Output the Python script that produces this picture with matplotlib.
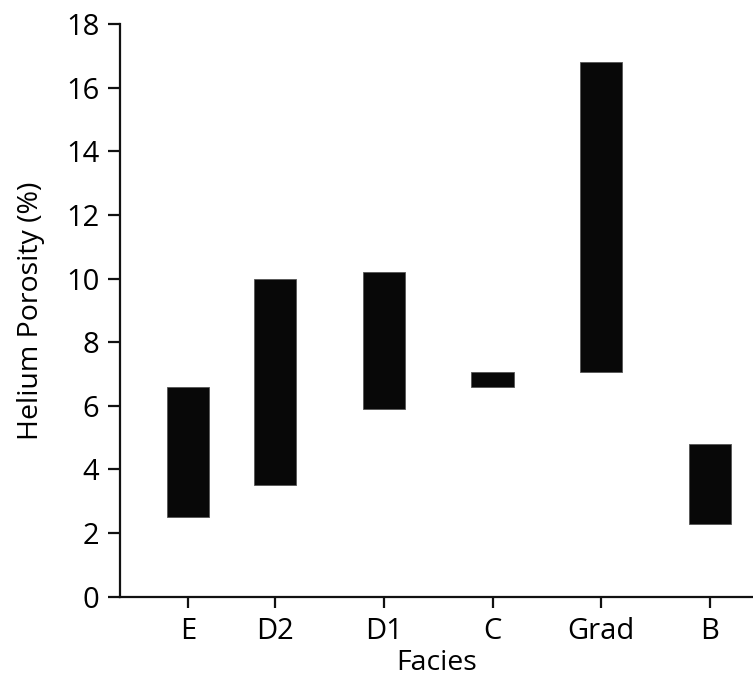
import matplotlib.pyplot as plt
import numpy as np

plt.rcParams['font.family'] = ['Open Sans', 'DejaVu Sans']

# porosity ranges per facies (min / max, %)
facies = ['E', 'D2', 'D1', 'C', 'Grad', 'B']
por_min = [2.5, 3.5, 5.9, 6.6, 7.05, 2.3]
por_max = [6.6, 10.0, 10.2, 7.05, 16.8, 4.8]

# category positions on the x axis (E sits closer to D2 in the original)
xpos = np.array([0.2, 1, 2, 3, 4, 5])

fig = plt.figure(figsize=(7.53, 6.78), dpi=100)
ax = fig.add_axes([0.1594, 0.12, 0.8406, 0.8442])

lo = np.array(por_min)
hi = np.array(por_max)
ax.bar(xpos, hi - lo, bottom=lo, width=0.39, color='#080808',
       edgecolor='#555555', linewidth=0.6)

ax.set_xlim(-0.425, 5.395)
ax.set_ylim(0, 18)
ax.set_yticks(np.arange(0, 19, 2))
ax.set_xticks(xpos)
ax.set_xticklabels(facies)

for s in ['top', 'right']:
    ax.spines[s].set_visible(False)
for s in ['left', 'bottom']:
    ax.spines[s].set_linewidth(1.6)
    ax.spines[s].set_color('#111111')

ax.tick_params(axis='y', length=9, width=1.6, pad=6, labelsize=21, color='#111111')
ax.tick_params(axis='x', length=8, width=1.6, pad=7, labelsize=21, color='#111111')

ax.set_xlabel('Facies', fontsize=20.5, labelpad=2)
ax.set_ylabel('Helium Porosity (%)', fontsize=20.5, labelpad=15)

fig.savefig('out.png', dpi=100)
